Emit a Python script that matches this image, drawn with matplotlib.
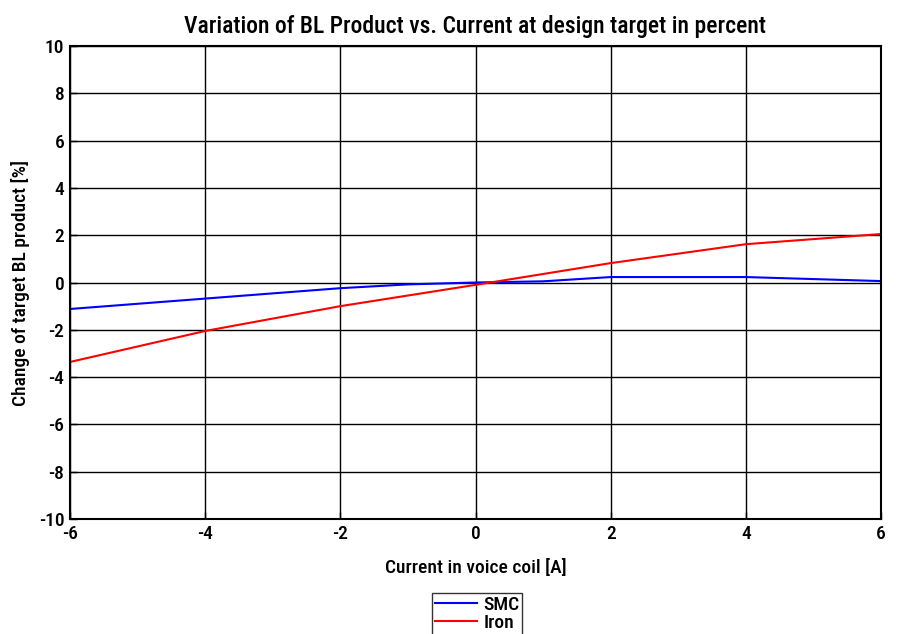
import numpy as np
import matplotlib.pyplot as plt

current = [-6, -4, -2, -1, 0, 1, 2, 4, 6]
smc = [-1.12, -0.68, -0.24, -0.08, 0.0, 0.05, 0.23, 0.23, 0.06]
iron_current = [-6, -4, -2, 0, 2, 4, 6]
iron = [-3.36, -2.05, -1.0, -0.1, 0.82, 1.62, 2.05]

plt.rcParams['font.family'] = ['Roboto Condensed', 'Archivo Narrow', 'PT Sans Narrow', 'DejaVu Sans']
plt.rcParams['font.weight'] = 'medium'
plt.rcParams['axes.titleweight'] = 'medium'
plt.rcParams['axes.labelweight'] = 'medium'
plt.rcParams['axes.unicode_minus'] = False
plt.rcParams['font.size'] = 13

fig = plt.figure(figsize=(8.99, 6.34), dpi=100)
ax = fig.add_axes([70/899, 1-519/634, 811/899, 473/634])

ax.plot(current, smc, color='#0000ff', lw=1.5, label='SMC')
ax.plot(iron_current, iron, color='#ff0000', lw=1.5, label='Iron')

ax.set_xlim(-6, 6)
ax.set_ylim(-10, 10)
ax.set_xticks(np.arange(-6, 7, 2))
ax.set_yticks(np.arange(-10, 11, 2))
ax.grid(True, color='black', lw=1, ls='-')
ax.tick_params(direction='in', length=5, width=1, labelsize=14, pad=4)
for s in ax.spines.values():
    s.set_linewidth(1.5)

ax.set_title('Variation of BL Product vs. Current at design target in percent', fontsize=17, pad=9)
ax.set_xlabel('Current in voice coil [A]', fontsize=14, labelpad=12)
ax.set_ylabel('Change of target BL product [%]', fontsize=14, labelpad=6)

leg = ax.legend(loc='upper center', bbox_to_anchor=(477/899, 1-593/634), bbox_transform=fig.transFigure,
                fontsize=14, frameon=True, fancybox=False, edgecolor='black', handlelength=2.2,
                borderpad=0.15, labelspacing=0.0, handletextpad=0.3, borderaxespad=0)
leg.get_frame().set_linewidth(1)

fig.savefig('out.png', dpi=100)
